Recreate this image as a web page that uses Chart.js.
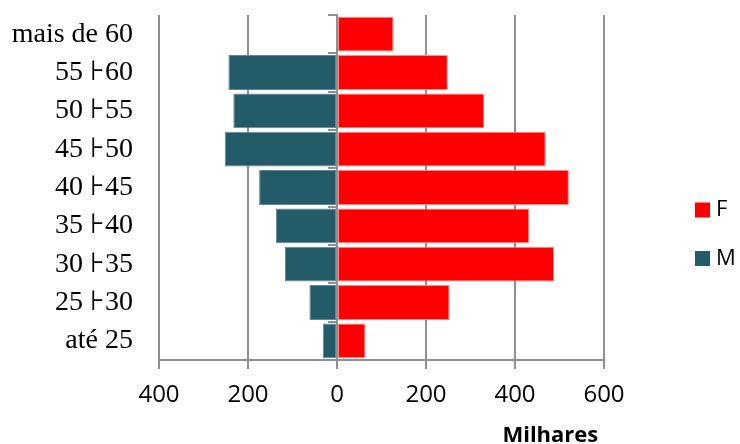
<!DOCTYPE html>
<html>
<head>
<meta charset="utf-8">
<script src="https://cdn.jsdelivr.net/npm/chart.js@4.4.1/dist/chart.umd.min.js"></script>
<style>
  html, body { margin: 0; padding: 0; background: #fff; }
  #wrap { width: 740px; height: 444px; }
</style>
</head>
<body>
<div id="wrap"><canvas id="myChart"></canvas></div>
<script>
const faixas = ['mais de 60', '55 \u22A660', '50 \u22A655', '45 \u22A650', '40 \u22A645', '35 \u22A640', '30 \u22A635', '25 \u22A630', 'até 25'];
const feminino = [127, 249, 331, 469, 521, 432, 488, 253, 64];
const masculino = [0, 244, 233, 252, 175, 137, 117, 62, 32];
const xTicks = [-400, -200, 0, 200, 400, 600];

const cinza = '#909090';

// legenda desenhada à direita, como no original (F em cima, M em baixo)
const legendaLado = {
  id: 'legendaLado',
  afterDraw(chart) {
    const ctx = chart.ctx;
    const items = [
      { label: chart.data.datasets[1].label, cor: chart.data.datasets[1].backgroundColor, y: 210 },
      { label: chart.data.datasets[0].label, cor: chart.data.datasets[0].backgroundColor, y: 258.5 }
    ];
    ctx.save();
    ctx.font = '22px "Open Sans"';
    ctx.textBaseline = 'middle';
    items.forEach(it => {
      ctx.fillStyle = it.cor;
      ctx.fillRect(695, it.y - 7.5, 15, 15);
      ctx.fillStyle = '#000';
      ctx.fillText(it.label, 716, it.y);
    });
    ctx.restore();
  }
};

const ctx = document.getElementById('myChart');

new Chart(ctx, {
  type: 'bar',
  data: {
    labels: faixas,
    datasets: [{
      label: 'M',
      data: masculino.map(v => -v),
      backgroundColor: '#235B69',
      borderColor: '#5f8994',
      borderWidth: 1,
      borderSkipped: false
    }, {
      label: 'F',
      data: feminino,
      backgroundColor: '#FF0000',
      borderColor: '#ff8a8a',
      borderWidth: 1,
      borderSkipped: false
    }]
  },
  options: {
    indexAxis: 'y',
    responsive: true,
    maintainAspectRatio: false,
    animation: false,
    categoryPercentage: 1,
    barPercentage: 0.91,
    layout: { padding: { top: 15, right: 136, left: 0, bottom: 0 } },
    plugins: {
      legend: { display: false },
      tooltip: { enabled: false }
    },
    scales: {
      x: {
        stacked: true,
        min: -400,
        max: 600,
        afterBuildTicks(scale) {
          scale.ticks = xTicks.map(v => ({ value: v }));
        },
        afterFit(scale) {
          scale.height = 84;
          scale.paddingLeft = 0;
          scale.paddingRight = 0;
        },
        ticks: {
          callback: v => Math.abs(v),
          color: '#000',
          padding: 12,
          maxRotation: 0,
          font: { family: '"Open Sans"', size: 24 }
        },
        grid: { color: cinza, lineWidth: 2, tickLength: 9 },
        border: { color: cinza, width: 2 },
        title: {
          display: true,
          text: 'Milhares ',
          align: 'end',
          color: '#000',
          padding: { top: 0, bottom: -5 },
          font: { family: '"Open Sans"', size: 22, weight: 'bold' }
        }
      },
      y: {
        stacked: true,
        afterFit(scale) {
          scale.width = 159;
          scale.paddingTop = 0;
          scale.paddingBottom = 0;
        },
        ticks: {
          color: '#000',
          padding: 26,
          autoSkip: false,
          font: { family: '"Liberation Serif"', size: 28 }
        },
        grid: { display: false, drawTicks: false },
        border: { display: false }
      },
      y2: {
        type: 'category',
        axis: 'y',
        position: { x: 0 },
        offset: true,
        z: 1,
        ticks: { display: false, autoSkip: false },
        grid: { offset: true, drawOnChartArea: false, color: cinza, lineWidth: 2, tickLength: 8 },
        border: { color: cinza, width: 2 }
      }
    }
  },
  plugins: [legendaLado]
});
</script>
</body>
</html>
